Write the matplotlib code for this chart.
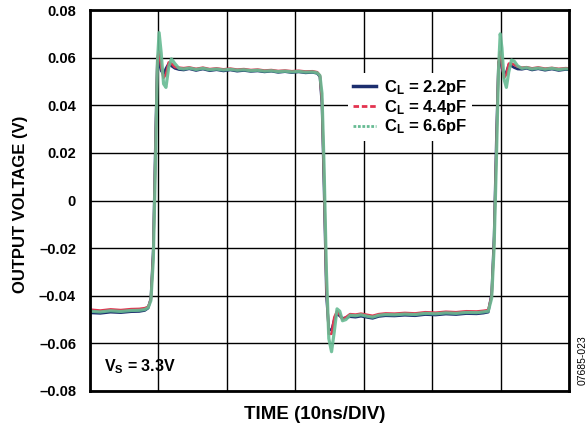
import matplotlib
matplotlib.use("Agg")
import matplotlib.pyplot as plt
from matplotlib.lines import Line2D

plt.rcParams['font.family'] = ['Liberation Sans', 'DejaVu Sans']
plt.rcParams['font.weight'] = 'bold'
plt.rcParams['mathtext.fontset'] = 'custom'
plt.rcParams['mathtext.rm'] = 'Liberation Sans:bold'
plt.rcParams['mathtext.it'] = 'Liberation Sans:bold'
plt.rcParams['mathtext.bf'] = 'Liberation Sans:bold'

# time in ns
t = [0, 1.5, 3, 4.5, 6, 7.2, 8.0, 8.5, 8.9, 9.25,
     9.6, 9.85, 10.1, 10.4, 10.75, 11.1, 11.5, 11.9, 12.4, 13.0,
     13.7, 14.5, 15.5, 16.5, 17.5, 18.5, 19.5, 20.5, 21.5, 22.5,
     23.5, 24.5, 25.5, 26.5, 27.5, 28.5, 29.5, 30.5, 31.5, 32.5,
     33.2, 33.6, 33.9, 34.2, 34.55, 34.9, 35.3, 35.7, 36.1, 36.5,
     36.9, 37.4, 38.0, 38.8, 39.6, 40.5, 41.3, 42.2, 43.2, 44.5,
     46, 47.5, 49, 50.5, 52, 53.5, 55, 56.5, 57.5, 58.2,
     58.7, 59.05, 59.4, 59.7, 59.95, 60.2, 60.5, 60.85, 61.2, 61.6,
     62.0, 62.5, 63.1, 63.8, 64.6, 65.5, 66.5, 67.5, 68.5, 69.5, 70]

v_22 = [-0.0472, -0.0474, -0.0469, -0.0471, -0.0467, -0.0466, -0.0462, -0.0452, -0.0410, -0.0200,
        0.030, 0.059, 0.058, 0.0545, 0.0530, 0.0555, 0.0575, 0.0565, 0.0555, 0.0550,
        0.0548, 0.0553, 0.0546, 0.0552, 0.0545, 0.0549, 0.0544, 0.0548, 0.0543, 0.0546,
        0.0542, 0.0544, 0.0540, 0.0543, 0.0538, 0.0541, 0.0537, 0.0540, 0.0536, 0.0538,
        0.0534, 0.0520, 0.040, 0.005, -0.040, -0.054, -0.0545, -0.050, -0.0475, -0.0485,
        -0.0495, -0.0492, -0.0488, -0.0490, -0.0486, -0.0491, -0.0495, -0.0487, -0.0484, -0.0485,
        -0.0482, -0.0484, -0.0479, -0.0481, -0.0477, -0.0479, -0.0475, -0.0476, -0.0473, -0.0469,
        -0.039, -0.015, 0.028, 0.058, 0.0595, 0.0555, 0.0530, 0.0540, 0.0570, 0.0565,
        0.0558, 0.0552, 0.0551, 0.0555, 0.0548, 0.0553, 0.0547, 0.0552, 0.0546, 0.0550, 0.0549]

v_44 = [-0.0458, -0.0462, -0.0457, -0.0460, -0.0456, -0.0455, -0.0452, -0.0446, -0.0415, -0.0225,
        0.025, 0.060, 0.0625, 0.056, 0.0515, 0.0530, 0.0580, 0.0575, 0.0560, 0.0558,
        0.0556, 0.0559, 0.0553, 0.0558, 0.0552, 0.0555, 0.0551, 0.0554, 0.0550, 0.0552,
        0.0548, 0.0550, 0.0546, 0.0548, 0.0544, 0.0546, 0.0543, 0.0545, 0.0542, 0.0543,
        0.0539, 0.0525, 0.042, 0.010, -0.036, -0.056, -0.0560, -0.049, -0.0465, -0.0480,
        -0.0500, -0.0490, -0.0477, -0.0479, -0.0475, -0.0480, -0.0484, -0.0477, -0.0474, -0.0475,
        -0.0472, -0.0474, -0.0469, -0.0471, -0.0467, -0.0469, -0.0465, -0.0466, -0.0463, -0.0460,
        -0.040, -0.018, 0.023, 0.058, 0.0625, 0.0570, 0.0515, 0.0530, 0.0575, 0.0575,
        0.0570, 0.0562, 0.0558, 0.0560, 0.0555, 0.0559, 0.0554, 0.0557, 0.0553, 0.0556, 0.0555]

v_66 = [-0.0465, -0.0468, -0.0463, -0.0466, -0.0462, -0.0461, -0.0458, -0.0450, -0.0420, -0.0250,
        0.020, 0.058, 0.0705, 0.062, 0.049, 0.0475, 0.056, 0.0595, 0.0575, 0.0555,
        0.0552, 0.0556, 0.0550, 0.0555, 0.0549, 0.0552, 0.0548, 0.0551, 0.0547, 0.0549,
        0.0545, 0.0547, 0.0543, 0.0545, 0.0541, 0.0543, 0.0540, 0.0542, 0.0539, 0.0540,
        0.0536, 0.0525, 0.045, 0.015, -0.030, -0.058, -0.0635, -0.055, -0.0455, -0.0465,
        -0.0505, -0.0500, -0.0482, -0.0484, -0.0480, -0.0486, -0.0490, -0.0482, -0.0479, -0.0480,
        -0.0477, -0.0479, -0.0474, -0.0476, -0.0472, -0.0474, -0.0470, -0.0471, -0.0468, -0.0465,
        -0.041, -0.020, 0.018, 0.055, 0.0700, 0.064, 0.051, 0.0475, 0.054, 0.0590,
        0.0585, 0.0565, 0.0555, 0.0558, 0.0552, 0.0556, 0.0551, 0.0555, 0.0550, 0.0553, 0.0552]

labels = [r'C$_{\mathrm{L}}$ = 2.2pF', r'C$_{\mathrm{L}}$ = 4.4pF', r'C$_{\mathrm{L}}$ = 6.6pF']
colors = ['#1c2e6e', '#e3334f', '#66bb93']
yticks = [-0.08, -0.06, -0.04, -0.02, 0, 0.02, 0.04, 0.06, 0.08]
ytick_labels = ['–0.08', '–0.06', '–0.04', '–0.02', '0', '0.02', '0.04', '0.06', '0.08']
xgrid = [0, 10, 20, 30, 40, 50, 60, 70]

fig = plt.figure(figsize=(5.88, 4.25), dpi=100)
ax = fig.add_axes([90/588, 1-391/425, 479/588, 381/425])

ax.plot(t, v_22, color=colors[0], lw=1.9, zorder=3)
ax.plot(t, v_44, color=colors[1], lw=1.8, zorder=4)
ax.plot(t, v_66, color=colors[2], lw=2.3, alpha=0.9, zorder=5)

ax.set_xlim(0, 70)
ax.set_ylim(-0.08, 0.08)
ax.set_xticks(xgrid)
ax.set_xticklabels([])
ax.set_yticks(yticks)
ax.set_yticklabels(ytick_labels, fontsize=10.5, fontweight='bold')
ax.tick_params(length=0, pad=10)
ax.grid(True, color='black', lw=1.0)
ax.set_axisbelow(True)
for s in ax.spines.values():
    s.set_linewidth(2.0)
    s.set_zorder(6)

ax.set_ylabel('OUTPUT VOLTAGE (V)', fontsize=12, fontweight='bold')
ax.yaxis.set_label_coords(-0.13, 0.49)
ax.set_xlabel('TIME (10ns/DIV)', fontsize=13.5, fontweight='bold')
ax.xaxis.set_label_coords(0.47, -0.04)

handles = [Line2D([], [], color=colors[0], lw=2.5, ls='-'),
           Line2D([], [], color=colors[1], lw=2.0, ls=(0, (2, 1))),
           Line2D([], [], color=colors[2], lw=2.0, ls=(0, (1, 0.6)))]
leg = ax.legend(handles, labels, loc='center', bbox_to_anchor=(0.668, 0.745),
                frameon=True, fancybox=False, edgecolor='none', facecolor='white',
                framealpha=1, prop={'size': 12, 'weight': 'bold'},
                handlelength=1.4, handletextpad=0.45, labelspacing=0.05, borderpad=0.3)
leg.set_zorder(7)

ax.text(0.03, 0.065, r'V$_{\mathrm{S}}$ = 3.3V', transform=ax.transAxes,
        fontsize=11.5, fontweight='bold', va='center', ha='left', zorder=8)

fig.text(583/588, 1-360/425, '07685-023', rotation=90, fontsize=7.5,
         fontweight='normal', ha='center', va='center')

fig.savefig('out.png', dpi=100)
